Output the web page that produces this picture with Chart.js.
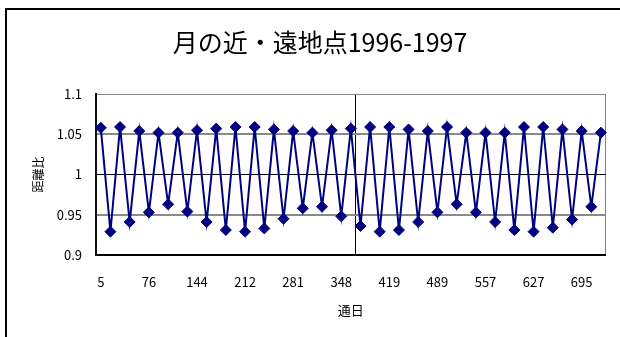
<!DOCTYPE html>
<html>
<head>
<meta charset="utf-8">
<script src="https://cdn.jsdelivr.net/npm/chart.js@4/dist/chart.umd.min.js"></script>
<style>
  html, body { margin: 0; padding: 0; background: #fff; }
  #wrap { position: relative; width: 620px; height: 337px; overflow: hidden; }
  #frame { position: absolute; left: 5px; top: 8px; width: 700px; height: 400px;
           border-left: 2px solid #000; border-top: 2px solid #000; }
  #c { position: absolute; left: 0; top: 0; }
</style>
</head>
<body>
<div id="wrap">
  <div id="frame"></div>
  <canvas id="c" width="620" height="337"></canvas>
</div>
<script>
// Day-of-period (通日) labels shown on every 5th perigee/apogee point
const dayTicks = [5, 76, 144, 212, 281, 348, 419, 489, 557, 627, 695];
const tickEvery = 5;

// Earth–Moon distance ratio at successive apogees (high) and perigees (low)
const distanceRatio = [
  1.058, 0.929, 1.059, 0.941, 1.054, 0.953, 1.052, 0.963, 1.052, 0.954,
  1.055, 0.941, 1.057, 0.931, 1.059, 0.929, 1.059, 0.933, 1.056, 0.945,
  1.054, 0.958, 1.052, 0.960, 1.055, 0.948, 1.057, 0.936, 1.059, 0.929,
  1.059, 0.931, 1.056, 0.941, 1.054, 0.953, 1.059, 0.963, 1.052, 0.953,
  1.052, 0.941, 1.052, 0.931, 1.059, 0.929, 1.059, 0.934, 1.056, 0.944,
  1.054, 0.960, 1.052
];

// Value axis crosses between these categories (start of 1997)
const axisCrossIndex = 27;

const yTicks = [0.9, 0.95, 1.0, 1.05, 1.1];

const categories = distanceRatio.map((_, i) =>
  i % tickEvery === 0 && dayTicks[i / tickEvery] !== undefined ? String(dayTicks[i / tickEvery]) : '');

const jp = "'Noto Sans CJK JP', 'Noto Sans', sans-serif";

new Chart(document.getElementById('c'), {
  type: 'line',
  data: {
    labels: categories,
    datasets: [{
      data: distanceRatio,
      borderColor: '#000080',
      borderWidth: 2,
      backgroundColor: '#000080',
      pointStyle: 'rectRot',
      pointRadius: 5.5,
      pointBorderWidth: 1,
      pointBorderColor: '#000080',
      pointBackgroundColor: '#000080',
      tension: 0,
      fill: false
    }]
  },
  options: {
    responsive: false,
    animation: false,
    devicePixelRatio: 1,
    layout: { padding: { left: 28, right: 8, top: 0, bottom: 0 } },
    plugins: {
      legend: { display: false },
      tooltip: { enabled: false },
      title: {
        display: true,
        text: '月の近・遠地点1996-1997',
        color: '#000',
        font: { family: jp, size: 25, weight: 'normal' },
        padding: { top: 27, bottom: 37 }
      }
    },
    scales: {
      x: {
        type: 'category',
        offset: true,
        afterFit: s => { s.height = 82; },
        border: { display: true, color: '#000', width: 2 },
        grid: {
          offset: true,
          drawTicks: false,
          // the extra closing line (right edge of the plot) gets the scale context
          color: c => c.type === 'scale' ? '#808080'
                    : (c.index === axisCrossIndex ? '#000' : 'rgba(0,0,0,0)'),
          lineWidth: 1
        },
        ticks: {
          autoSkip: false,
          maxRotation: 0,
          padding: 19,
          color: '#000',
          font: { family: jp, size: 13 }
        },
        title: {
          display: true,
          text: '通日',
          color: '#000',
          font: { family: jp, size: 13 },
          padding: { top: 0, bottom: 19 }
        }
      },
      y: {
        min: yTicks[0],
        max: yTicks[yTicks.length - 1],
        afterFit: s => { s.width = 68; },
        afterBuildTicks: s => { s.ticks = yTicks.map(v => ({ value: v })); },
        border: { display: true, color: '#111', width: 2 },
        grid: {
          drawTicks: false,
          color: c => {
            const v = c.tick ? c.tick.value : null;
            if (v === 1) return '#000';
            if (v === yTicks[0]) return 'rgba(0,0,0,0)';
            return '#8a8a8a';
          },
          lineWidth: c => {
            const v = c.tick ? c.tick.value : null;
            return (v === 1 || v === yTicks[yTicks.length - 1]) ? 1 : 2;
          }
        },
        ticks: {
          padding: 14,
          color: '#000',
          font: { family: jp, size: 13 },
          callback: v => String(Number(v.toFixed(2)))
        },
        title: {
          display: true,
          text: '距離比',
          color: '#000',
          font: { family: jp, size: 12 },
          padding: { top: 3, bottom: 0 }
        }
      }
    }
  }
});
</script>
</body>
</html>
